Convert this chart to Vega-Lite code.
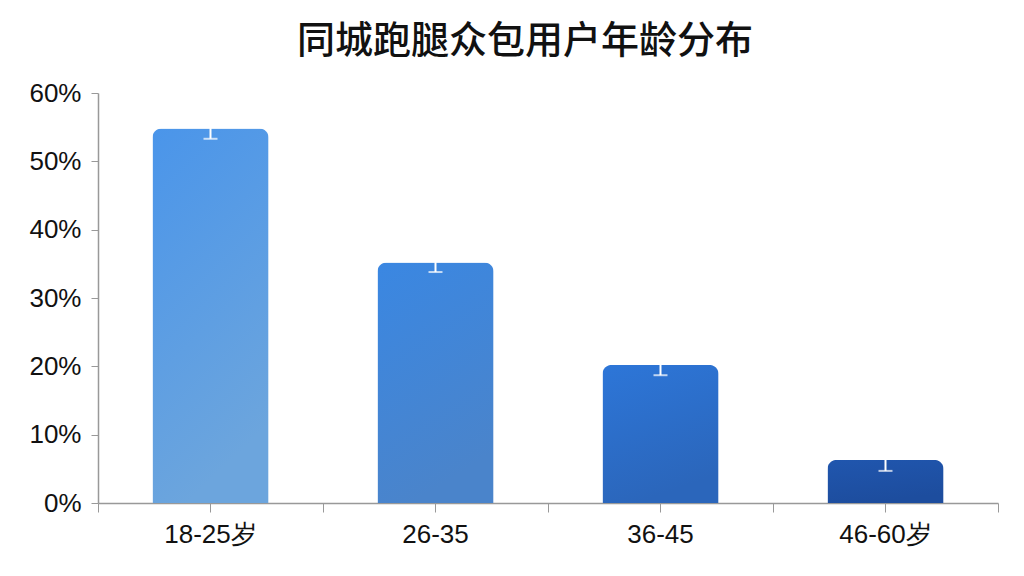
{
  "$schema": "https://vega.github.io/schema/vega-lite/v6.json",
  "width": 900,
  "height": 410,
  "autosize": {"type": "none"},
  "padding": {"left": 98, "top": 93, "right": 26, "bottom": 73},
  "background": "white",
  "title": {
    "text": "同城跑腿众包用户年龄分布",
    "font": "Noto Sans CJK SC",
    "fontSize": 38,
    "fontWeight": 500,
    "color": "#111111",
    "offset": 19,
    "dx": -23
  },
  "data": {
    "values": [
      {"age": "18-25岁", "share": 54.8, "low": 53.3, "high": 56.3},
      {"age": "26-35", "share": 35.2, "low": 33.8, "high": 36.6},
      {"age": "36-45", "share": 20.2, "low": 18.7, "high": 21.7},
      {"age": "46-60岁", "share": 6.3, "low": 4.7, "high": 7.9}
    ]
  },
  "encoding": {
    "x": {
      "field": "age",
      "type": "nominal",
      "sort": null,
      "scale": {"paddingInner": 0, "paddingOuter": 0},
      "axis": null
    },
    "y": {
      "field": "share",
      "type": "quantitative",
      "scale": {"domain": [0, 60]},
      "axis": {
        "title": null,
        "values": [0, 10, 20, 30, 40, 50, 60],
        "labelExpr": "datum.value + '%'",
        "labelFont": "Liberation Sans",
        "labelFontSize": 26,
        "labelColor": "#111111",
        "labelPadding": 10,
        "tickSize": 7,
        "tickColor": "#999999",
        "domainColor": "#999999",
        "domainWidth": 1.5,
        "grid": false
      }
    }
  },
  "layer": [
    {
      "transform": [{"filter": "datum.age === '18-25岁'"}],
      "mark": {
        "type": "bar", "width": {"band": 0.516}, "cornerRadiusTopLeft": 9, "cornerRadiusTopRight": 9,
        "color": {"gradient": "linear", "x1": 0, "y1": 0, "x2": 0.3, "y2": 1, "stops": [{"offset": 0, "color": "#4a95ea"}, {"offset": 1, "color": "#6ca5dd"}]}
      },
      "encoding": {
        "x": {
          "field": "age",
          "type": "nominal",
          "sort": null,
          "axis": {
            "orient": "bottom",
            "title": null,
            "labels": false,
            "tickBand": "extent",
            "tickSize": 9,
            "tickColor": "#999999",
            "domainColor": "#999999",
            "domainWidth": 1.5
          }
        }
      }
    },
    {
      "transform": [{"filter": "datum.age === '26-35'"}],
      "mark": {
        "type": "bar", "width": {"band": 0.516}, "cornerRadiusTopLeft": 9, "cornerRadiusTopRight": 9,
        "color": {"gradient": "linear", "x1": 0, "y1": 0, "x2": 0.3, "y2": 1, "stops": [{"offset": 0, "color": "#3a87e2"}, {"offset": 1, "color": "#4a84cb"}]}
      }
    },
    {
      "transform": [{"filter": "datum.age === '36-45'"}],
      "mark": {
        "type": "bar", "width": {"band": 0.516}, "cornerRadiusTopLeft": 9, "cornerRadiusTopRight": 9,
        "color": {"gradient": "linear", "x1": 0, "y1": 0, "x2": 0.3, "y2": 1, "stops": [{"offset": 0, "color": "#2d76d8"}, {"offset": 1, "color": "#2b66bb"}]}
      }
    },
    {
      "transform": [{"filter": "datum.age === '46-60岁'"}],
      "mark": {
        "type": "bar", "width": {"band": 0.516}, "cornerRadiusTopLeft": 9, "cornerRadiusTopRight": 9,
        "color": {"gradient": "linear", "x1": 0, "y1": 0, "x2": 0.3, "y2": 1, "stops": [{"offset": 0, "color": "#2056ae"}, {"offset": 1, "color": "#1d4d9e"}]}
      }
    },
    {
      "mark": {
        "type": "errorbar",
        "color": "white",
        "thickness": 2,
        "ticks": {"size": 14, "thickness": 2, "color": "white"}
      },
      "encoding": {
        "x": {
          "field": "age",
          "type": "nominal",
          "sort": null,
          "axis": {
            "orient": "bottom",
            "title": null,
            "domain": false,
            "labelAngle": 0,
            "labelFont": "Liberation Sans",
            "labelFontSize": 26,
            "labelColor": "#111111",
            "labelPadding": 9,
            "tickSize": 9,
            "tickColor": "#999999"
          }
        },
        "y": {"field": "low", "type": "quantitative", "title": null},
        "y2": {"field": "high"}
      }
    }
  ],
  "resolve": {"axis": {"x": "independent"}},
  "config": {"view": {"stroke": "transparent"}}
}
